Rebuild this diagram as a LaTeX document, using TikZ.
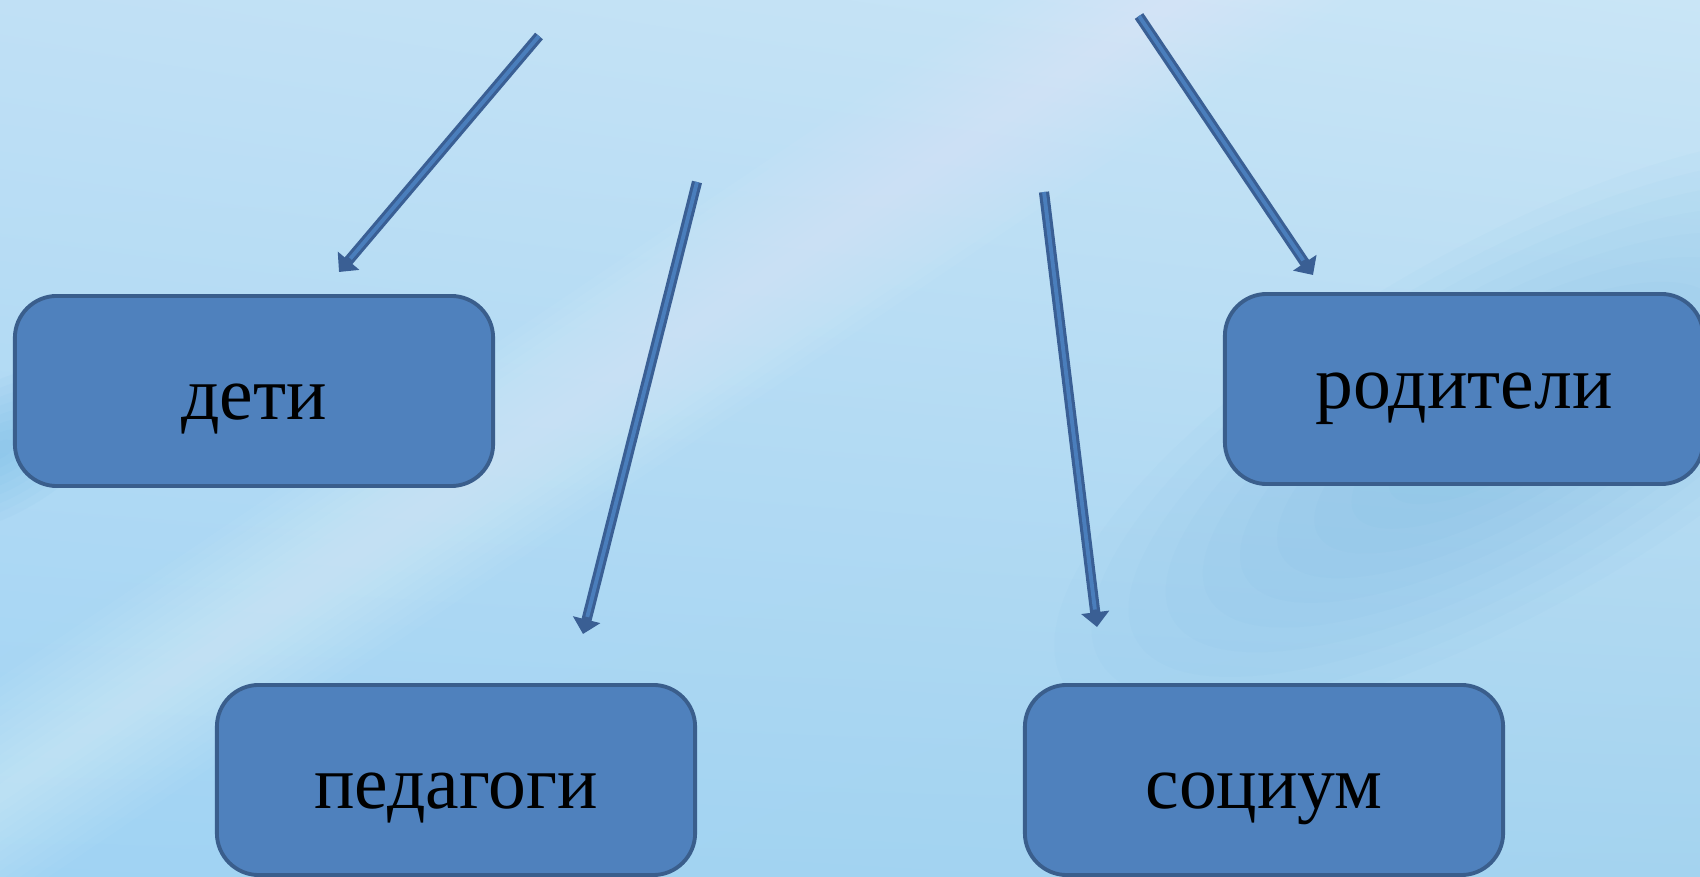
\documentclass[tikz,border=0pt]{standalone}
\usepackage{fontspec}
\setmainfont{Liberation Serif}
\usetikzlibrary{arrows.meta, shadings}

\definecolor{boxfill}{HTML}{4F81BD}
\definecolor{boxline}{HTML}{3A5E8C}
\definecolor{arrline}{HTML}{3A5F94}
\definecolor{arrcore}{HTML}{4A7EBC}
\definecolor{bgTL}{HTML}{C0E0F5}
\definecolor{bgTR}{HTML}{C9E5F6}
\definecolor{bgBL}{HTML}{A0D3F3}
\definecolor{bgBR}{HTML}{A4D3EF}
\definecolor{bgDeep}{HTML}{5FAFE0}

\begin{document}
\begin{tikzpicture}[x=0.01cm, y=-0.01cm, line join=round,
    group/.style={draw=boxline, fill=boxfill, line width=1.1pt,
      rounded corners=0.42cm, minimum width=4.78cm, minimum height=1.9cm,
      font=\fontsize{21.5}{26}\selectfont, text=black,
      text height=16pt, text depth=0pt},
    flow/.style={draw=arrline, line width=2.9pt,
      -{Triangle[width=7.8pt, length=4.2pt]}},
    flowcore/.style={draw=arrcore, line width=1.1pt, shorten >=5pt}]

  % ===== Background =====
  \useasboundingbox (0,0) rectangle (1700,877);
  \shade[upper left=bgTL, upper right=bgTR, lower left=bgBL, lower right=bgBR]
    (0,0) rectangle (1700,877);

  % deeper blue haze on the right (stacked soft layers)
  \begin{scope}[shift={(1500,430)}, rotate=30]
    \foreach \r in {15,30,...,180}
      \fill[bgDeep, opacity=0.035] (0,0) ellipse [x radius=2.8*\r, y radius=\r];
  \end{scope}
  % and a little at the left edge
  \begin{scope}[shift={(0,450)}, rotate=30]
    \foreach \r in {8,16,...,64}
      \fill[bgDeep, opacity=0.05] (0,0) ellipse [x radius=2*\r, y radius=\r];
  \end{scope}

  % pale streak rising to the right
  \begin{scope}[shift={(480,470)}, rotate=34]
    \foreach \w in {8,16,...,96}
      \fill[white, opacity=0.03] (-1100,-\w) rectangle (1100,\w);
  \end{scope}

  % ===== Groups =====
  \node[group] (kids)     at (254,391)  {дети};
  \node[group, text height=11pt] (parents) at (1464,389) {родители};
  \node[group] (teachers) at (456,780)  {педагоги};
  \node[group] (society)  at (1264,780) {социум};

  % ===== Arrows (free ends) =====
  \coordinate (kids-s)     at (539,36);
  \coordinate (kids-t)     at (339,272);
  \coordinate (teachers-s) at (697,182);
  \coordinate (teachers-t) at (583,634);
  \coordinate (society-s)  at (1044,192);
  \coordinate (society-t)  at (1097,627);
  \coordinate (parents-s)  at (1139,16);
  \coordinate (parents-t)  at (1313,275);

  \draw[flow] (kids-s) -- (kids-t);
  \draw[flowcore] (kids-s) -- (kids-t);

  \draw[flow] (teachers-s) -- (teachers-t);
  \draw[flowcore] (teachers-s) -- (teachers-t);

  \draw[flow] (society-s) -- (society-t);
  \draw[flowcore] (society-s) -- (society-t);

  \draw[flow] (parents-s) -- (parents-t);
  \draw[flowcore] (parents-s) -- (parents-t);

\end{tikzpicture}
\end{document}
